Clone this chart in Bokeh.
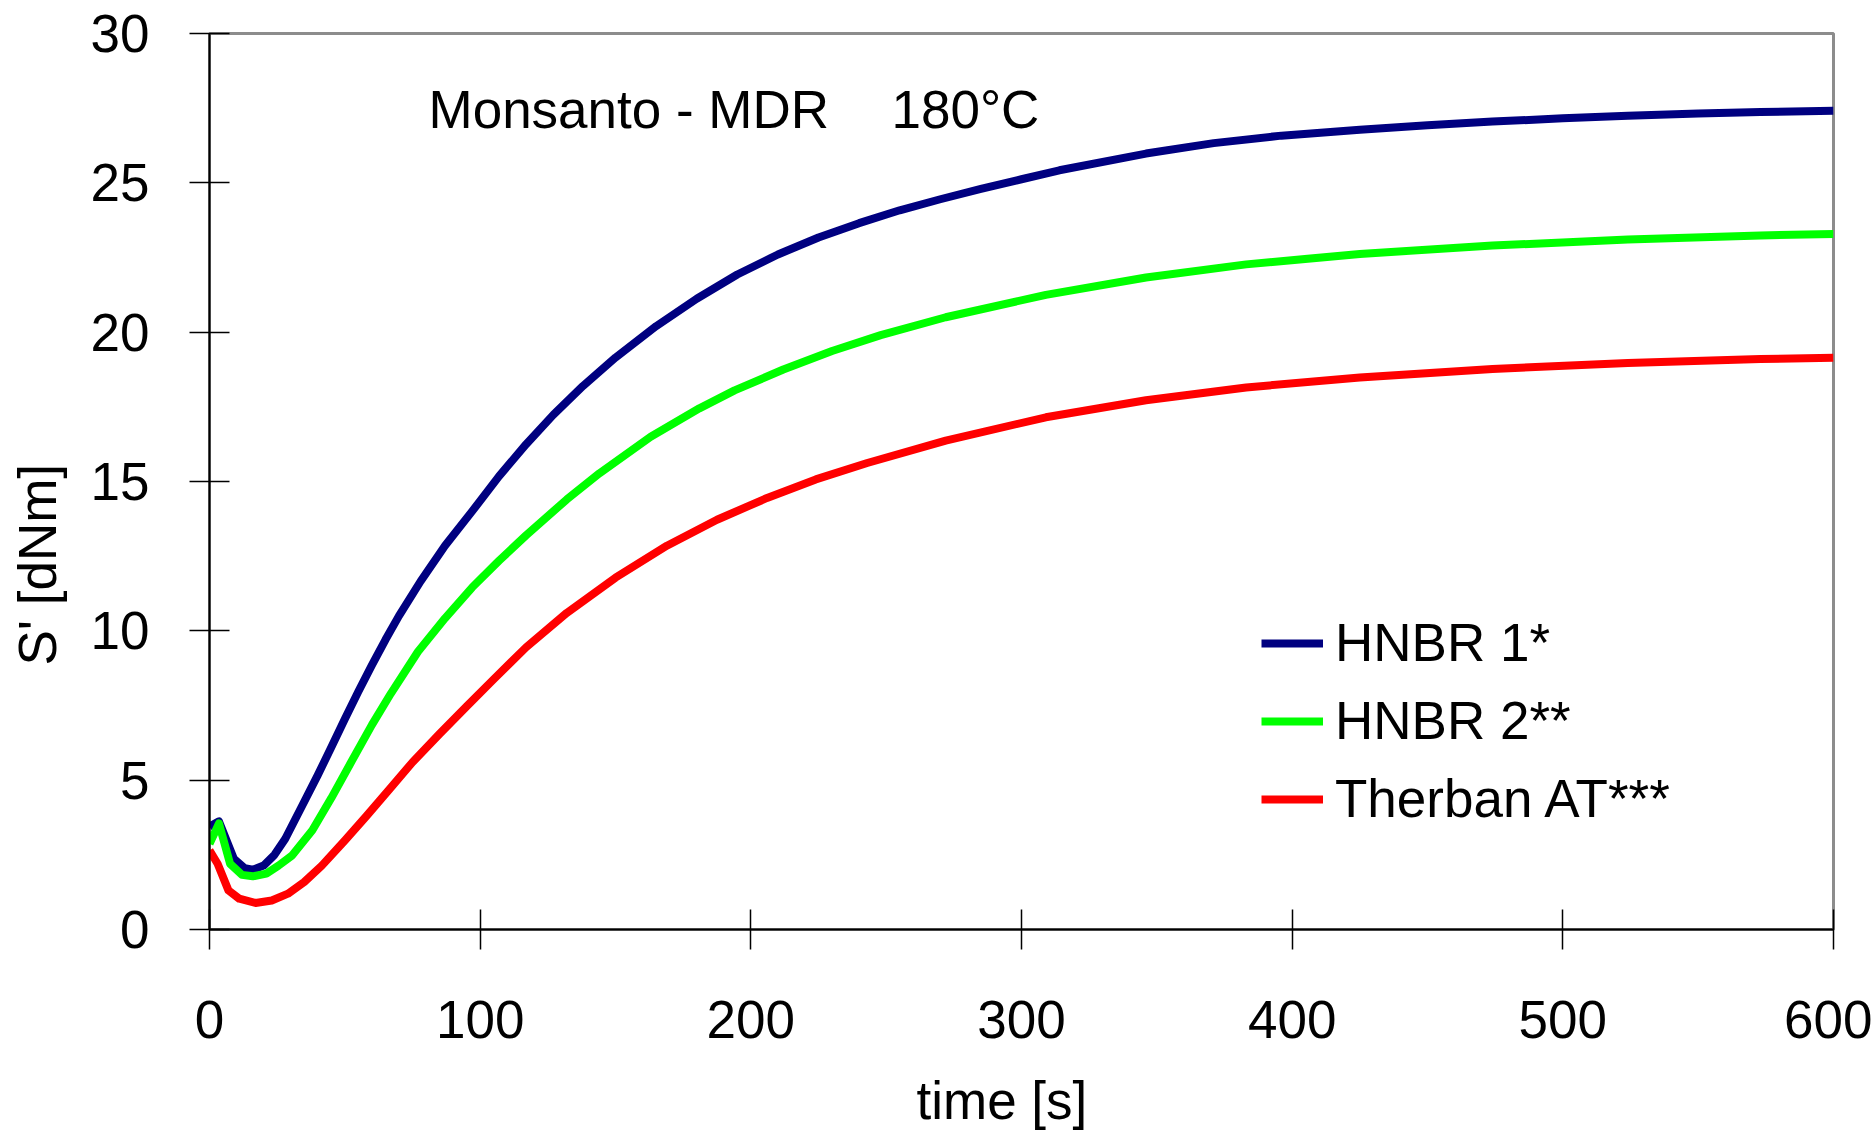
from bokeh.embed import file_html
from bokeh.models import FixedTicker, Label, Legend, LegendItem, Range1d, Title
from bokeh.plotting import figure
from bokeh.resources import INLINE

# Cure curves (MDR, 180 °C): time [s] and torque S' [dNm]
t_hnbr1 = [0, 3.5, 9, 13, 16, 20, 24, 28, 34, 40, 45, 50, 55, 60, 65, 70, 78,
           87, 97, 107, 117, 127, 138, 150, 165, 180, 195, 210, 225, 240, 255,
           270, 285, 300, 314, 346, 371, 396, 425, 450, 474, 500, 524, 550,
           573, 600]
s_hnbr1 = [3.45, 3.62, 2.37, 2.05, 2.0, 2.14, 2.5, 3.04, 4.1, 5.17, 6.1, 7.05,
           7.97, 8.85, 9.7, 10.5, 11.66, 12.85, 14.0, 15.18, 16.25, 17.23, 18.2,
           19.15, 20.2, 21.12, 21.93, 22.6, 23.17, 23.65, 24.08, 24.45, 24.8,
           25.12, 25.42, 25.98, 26.33, 26.58, 26.78, 26.93, 27.05, 27.16, 27.25,
           27.32, 27.37, 27.41]

t_hnbr2 = [0, 3.5, 7.6, 12, 16, 21, 25.5, 30.5, 38, 45, 52, 60, 67, 77, 87, 97,
           107, 117, 132, 144, 163, 181, 194, 212, 230, 248, 272, 309, 346, 383,
           425, 474, 524, 573, 600]
s_hnbr2 = [2.87, 3.55, 2.2, 1.83, 1.78, 1.87, 2.14, 2.48, 3.32, 4.4, 5.55, 6.85,
           7.9, 9.3, 10.42, 11.45, 12.35, 13.2, 14.4, 15.27, 16.5, 17.45, 18.05,
           18.75, 19.37, 19.9, 20.5, 21.25, 21.83, 22.27, 22.62, 22.9, 23.1,
           23.24, 23.29]

t_therban = [0, 3, 7, 11, 17, 23, 29, 35, 41.5, 50, 58, 67, 75, 85, 95, 105,
             117, 132, 150, 169, 187.5, 206, 224, 243, 272, 309, 346, 383, 425,
             474, 524, 573, 600]
s_therban = [2.65, 2.2, 1.31, 1.03, 0.89, 0.97, 1.2, 1.59, 2.14, 2.98, 3.8,
             4.75, 5.6, 6.55, 7.47, 8.38, 9.45, 10.6, 11.78, 12.85, 13.72, 14.45,
             15.07, 15.62, 16.37, 17.15, 17.72, 18.15, 18.48, 18.77, 18.97, 19.1,
             19.14]

series_names = ["HNBR 1*", "HNBR 2**", "Therban AT***"]
series_colors = ["#000080", "#00ff00", "#ff0000"]

x_ticks = [0, 100, 200, 300, 400, 500, 600]
y_ticks = [0, 5, 10, 15, 20, 25, 30]

FONT = "Liberation Sans"
FS = "53px"

p = figure(width=1872, height=1132, output_backend="svg", toolbar_location=None,
           x_range=Range1d(0, 600), y_range=Range1d(0, 30),
           min_border_left=209, min_border_right=39,
           min_border_top=33, min_border_bottom=203)
p.background_fill_color = "white"
p.border_fill_color = "white"
p.outline_line_color = "#8c8c8c"
p.outline_line_width = 3
p.xgrid.visible = False
p.ygrid.visible = False

for ax, ticks in ((p.xaxis[0], x_ticks), (p.yaxis[0], y_ticks)):
    ax.ticker = FixedTicker(ticks=ticks)
    ax.minor_tick_line_color = None
    ax.major_tick_in = 20
    ax.major_tick_out = 20
    ax.major_tick_line_color = "black"
    ax.major_tick_line_width = 1.5
    ax.axis_line_color = "black"
    ax.axis_line_width = 2
    ax.major_label_text_font = FONT
    ax.major_label_text_font_size = FS
    ax.major_label_text_color = "black"
p.xaxis.major_label_standoff = 51
p.yaxis.major_label_standoff = 40

renderers = []
for tx, sy, color in ((t_hnbr1, s_hnbr1, series_colors[0]),
                      (t_hnbr2, s_hnbr2, series_colors[1]),
                      (t_therban, s_therban, series_colors[2])):
    r = p.line(tx, sy, line_color=color, line_width=8, line_join="round")
    renderers.append(r)

legend = Legend(
    items=[LegendItem(label=n, renderers=[r]) for n, r in zip(series_names, renderers)],
    location=(1052, 100),
    label_text_font=FONT, label_text_font_size=FS, label_text_color="black",
    glyph_width=62, glyph_height=60, label_height=60, label_standoff=12,
    spacing=17, padding=0, margin=0,
    border_line_color=None, background_fill_alpha=0,
)
p.add_layout(legend)

# chart heading inside the frame
p.add_layout(Label(x=219, y=820, x_units="screen", y_units="screen",
                   text="Monsanto - MDR", text_font=FONT, text_font_size=FS,
                   text_baseline="middle", text_color="black"))
p.add_layout(Label(x=682, y=820, x_units="screen", y_units="screen",
                   text="180°C", text_font=FONT, text_font_size=FS,
                   text_baseline="middle", text_color="black"))

# axis titles, placed along each axis; padding (left, right, top, bottom)
# on the side of the text that faces the frame
p.add_layout(Title(text="time [s]", align="left", offset=707, standoff=0,
                   padding=(0, 0, 28, 0),
                   text_font=FONT, text_font_size=FS, text_font_style="normal",
                   text_color="black"), "below")
p.add_layout(Title(text="S' [dNm]", align="left", offset=264, standoff=0,
                   padding=(0, 0, 0, 21),
                   text_font=FONT, text_font_size=FS, text_font_style="normal",
                   text_color="black"), "left")

open("out.html", "w").write(file_html(p, INLINE))
